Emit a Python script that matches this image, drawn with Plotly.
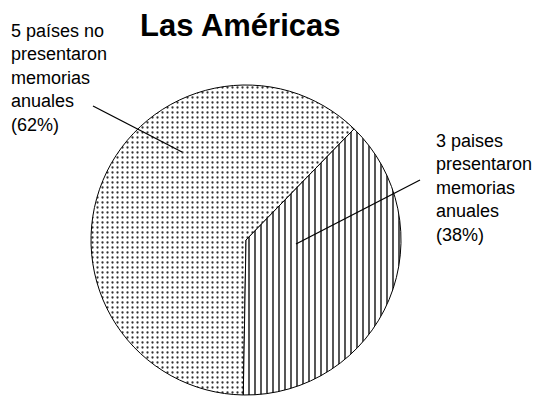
import plotly.graph_objects as go

# Data
labels = ["5 países no presentaron memorias anuales", "3 paises presentaron memorias anuales"]
values = [62, 38]
label_texts = [
    "5 países no<br>presentaron<br>memorias<br>anuales<br>(62%)",
    "3 paises<br>presentaron<br>memorias<br>anuales<br>(38%)",
]
title_text = "<b>Las Américas</b>"

W, H = 539, 396
FONT = "Arial"


def px(x, y):
    """Convert pixel position (from top-left) to paper coordinates."""
    return x / W, 1 - y / H


# pie circle: centre (246, 240), radius 155 px
cx, cy, r = 246, 240, 155
dx0, dy1 = px(cx - r, cy - r)
dx1, dy0 = px(cx + r, cy + r)

fig = go.Figure(
    go.Pie(
        labels=labels,
        values=values,
        sort=False,
        direction="clockwise",
        rotation=181,
        textinfo="none",
        hoverinfo="label+percent",
        showlegend=False,
        domain=dict(x=[dx0, dx1], y=[dy0, dy1]),
        marker=dict(
            colors=["white", "white"],
            line=dict(color="black", width=1),
            pattern=dict(
                shape=[".", "|"],
                fgcolor=["#333333", "#444444"],
                bgcolor=["white", "white"],
                size=[5, 6],
                solidity=[0.16, 0.3],
                fillmode="replace",
            ),
        ),
    )
)

annotations = []
# title
tx, ty = px(240, 26)
annotations.append(dict(
    text=title_text, x=tx, y=ty, xref="paper", yref="paper",
    xanchor="center", yanchor="middle", showarrow=False,
    font=dict(family=FONT, size=31, color="black"),
))
# slice labels
for text, (lx, ly) in zip(label_texts, [(10, 78), (435, 188)]):
    ax_, ay_ = px(lx, ly)
    annotations.append(dict(
        text=text, x=ax_, y=ay_, xref="paper", yref="paper",
        xanchor="left", yanchor="middle", align="left", showarrow=False,
        borderpad=0, font=dict(family=FONT, size=18, color="black"),
    ))

# leader lines from labels into slices
leaders = [((93, 106), (182, 152)), ((420, 180), (296, 244))]
shapes = []
for (x0, y0), (x1, y1) in leaders:
    p0 = px(x0, y0)
    p1 = px(x1, y1)
    shapes.append(dict(type="line", xref="paper", yref="paper",
                       x0=p0[0], y0=p0[1], x1=p1[0], y1=p1[1],
                       line=dict(color="black", width=1.3)))

fig.update_layout(
    width=W, height=H,
    margin=dict(l=0, r=0, t=0, b=0),
    paper_bgcolor="white", plot_bgcolor="white",
    annotations=annotations, shapes=shapes,
    font=dict(family=FONT),
)

fig.write_html("out.html")
